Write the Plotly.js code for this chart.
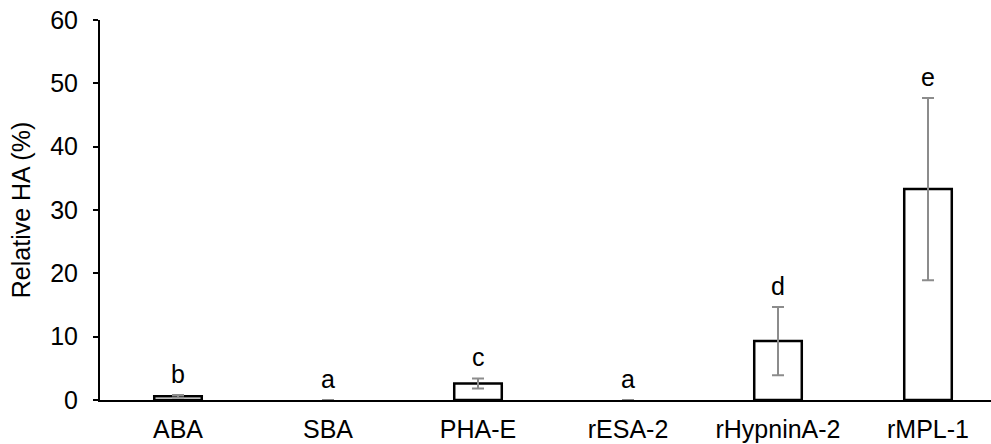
<!DOCTYPE html>
<html>
<head>
<meta charset="utf-8">
<script src="https://cdn.plot.ly/plotly-3.0.1.min.js"></script>
<style>html,body{margin:0;padding:0;background:#fff;}#chart{width:991px;height:444px;}</style>
</head>
<body>
<div id="chart"></div>
<script>
const categories = ["ABA", "SBA", "PHA-E", "rESA-2", "rHypninA-2", "rMPL-1"];
const values = [0.6, 0, 2.6, 0, 9.3, 33.3];
const errors = [0.2, null, 0.8, null, 5.4, 14.4];
const letters = ["b", "a", "c", "a", "d", "e"];
const yTicks = [0, 10, 20, 30, 40, 50, 60];

const trace = {
  type: "bar",
  x: categories,
  y: values,
  width: 0.317,
  marker: {color: "#ffffff", line: {color: "#000000", width: values.map(v => v > 0 ? 2.5 : 0)}},
  error_y: {type: "data", array: errors, visible: true, color: "#8c8c8c", thickness: 2, width: 6},
  hoverinfo: "none"
};

const annotations = categories.map((c, i) => ({
  x: c, y: values[i] + (errors[i] || 0), xref: "x", yref: "y",
  text: letters[i], showarrow: false, yanchor: "middle", yshift: 21,
  font: {family: "Liberation Sans, Arial, sans-serif", size: 25, color: "#000"}
}));

const layout = {
  width: 991, height: 444,
  margin: {l: 100, r: 0, t: 20, b: 44},
  paper_bgcolor: "#fff", plot_bgcolor: "#fff",
  showlegend: false,
  font: {family: "Liberation Sans, Arial, sans-serif", size: 25, color: "#000"},
  xaxis: {
    type: "category", range: [-0.52, 5.42],
    showline: true, linecolor: "#000", linewidth: 2,
    ticks: "", showgrid: false, zeroline: false,
    tickfont: {size: 25}, ticklabelstandoff: 6
  },
  yaxis: {
    range: [0, 60], tickvals: yTicks, ticktext: yTicks.map(String),
    showline: true, linecolor: "#000", linewidth: 2,
    ticks: "outside", ticklen: 5, tickwidth: 2, tickcolor: "#000",
    showgrid: false, zeroline: false,
    tickfont: {size: 25}, ticklabelstandoff: 10,
    title: {text: "Relative HA (%)", font: {size: 25}, standoff: 12}
  },
  annotations: annotations
};

Plotly.newPlot("chart", [trace], layout, {displayModeBar: false, staticPlot: true});
</script>
</body>
</html>
